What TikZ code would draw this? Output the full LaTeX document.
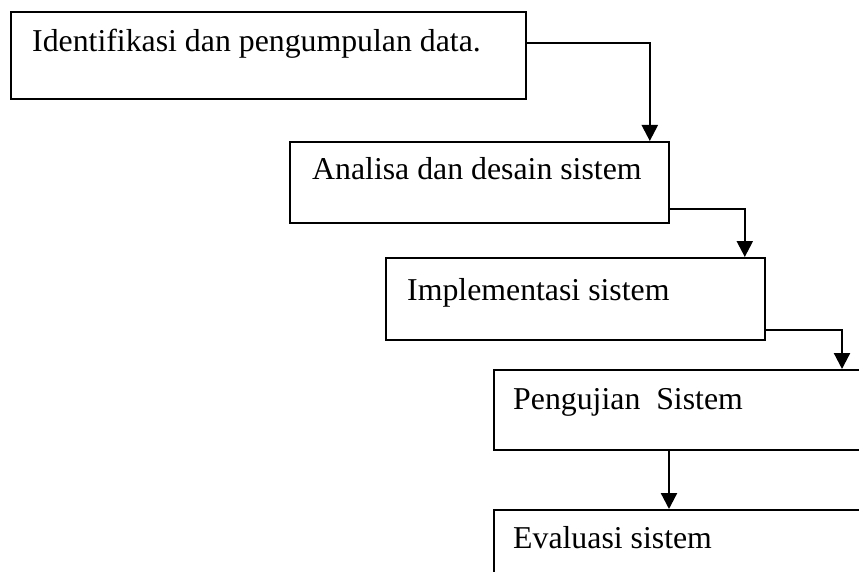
\documentclass[tikz,border=0pt]{standalone}
\usepackage{fontspec}
\setmainfont{Liberation Serif}
\usetikzlibrary{arrows.meta}
\tikzset{etape/.style={draw, rectangle, line width=1.8pt, anchor=north west, inner sep=0pt},
  texte/.style={anchor=base west, inner sep=0pt, font=\fontsize{31.8}{38}\selectfont},
  fleche/.style={line width=2.3pt, -{Triangle[length=16pt,width=16pt]}}}

\begin{document}
\begin{tikzpicture}[x=1pt,y=1pt]
    \useasboundingbox (0,0) rectangle (859,-572);
    \clip (0,0) rectangle (859,-572);

    \node[etape, minimum width=515pt, minimum height=87pt] (ident) at (10,-11) {};
    \node[etape, minimum width=379pt, minimum height=81pt] (analisa) at (289,-141) {};
    \node[etape, minimum width=379pt, minimum height=82pt] (impl) at (385,-257) {};
    \node[etape, minimum width=380pt, minimum height=80pt] (uji) at (493,-369) {};
    \node[etape, minimum width=380pt, minimum height=80pt] (eval) at (493,-509) {};

    \node[texte, xshift=22pt, yshift=-41pt] (t-ident) at (ident.north west) {Identifikasi dan pengumpulan data.};
    \node[texte, xshift=23pt, yshift=-39pt] (t-analisa) at (analisa.north west) {Analisa dan desain sistem};
    \node[texte, xshift=22pt, yshift=-43pt] (t-impl) at (impl.north west) {Implementasi sistem};
    \node[texte, xshift=20pt, yshift=-40pt] (t-uji) at (uji.north west) {Pengujian\ \ Sistem};
    \node[texte, xshift=20pt, yshift=-39pt] (t-eval) at (eval.north west) {Evaluasi sistem};

    \draw[fleche] ([yshift=12.5pt]ident.east) -| ([xshift=-20pt]analisa.north east);
    \draw[fleche] ([yshift=-26.5pt]analisa.east) -| ([xshift=-21pt]impl.north east);
    \draw[fleche] ([yshift=-31pt]impl.east) -| ([xshift=349pt]uji.north west);
    \draw[fleche] ([xshift=176pt]uji.south west) -- ([xshift=176pt]eval.north west);
\end{tikzpicture}
\end{document}
